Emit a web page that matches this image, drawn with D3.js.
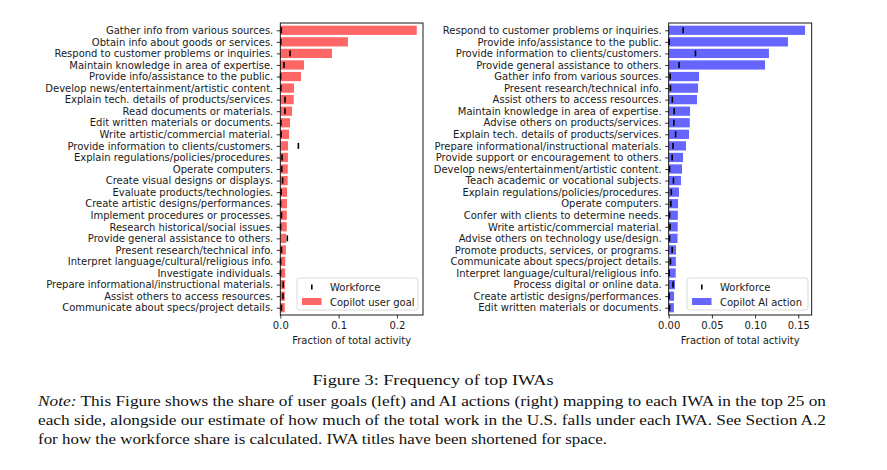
<!DOCTYPE html>
<html>
<head>
<meta charset="utf-8">
<script src="https://cdn.jsdelivr.net/npm/d3@7"></script>
<style>
  html, body { margin: 0; padding: 0; background: #fff; }
  svg { display: block; }
</style>
</head>
<body>
<svg id="chart" width="887" height="470"></svg>
<script>
const leftCategories = [
  "Gather info from various sources.",
  "Obtain info about goods or services.",
  "Respond to customer problems or inquiries.",
  "Maintain knowledge in area of expertise.",
  "Provide info/assistance to the public.",
  "Develop news/entertainment/artistic content.",
  "Explain tech. details of products/services.",
  "Read documents or materials.",
  "Edit written materials or documents.",
  "Write artistic/commercial material.",
  "Provide information to clients/customers.",
  "Explain regulations/policies/procedures.",
  "Operate computers.",
  "Create visual designs or displays.",
  "Evaluate products/technologies.",
  "Create artistic designs/performances.",
  "Implement procedures or processes.",
  "Research historical/social issues.",
  "Provide general assistance to others.",
  "Present research/technical info.",
  "Interpret language/cultural/religious info.",
  "Investigate individuals.",
  "Prepare informational/instructional materials.",
  "Assist others to access resources.",
  "Communicate about specs/project details."
];
const leftUserGoal = [0.234, 0.116, 0.0887, 0.0407, 0.0355, 0.0235, 0.023, 0.0201, 0.0167, 0.015,
  0.0133, 0.013, 0.0128, 0.0126, 0.0116, 0.0114, 0.0112, 0.011, 0.0099, 0.0095,
  0.0085, 0.0083, 0.008, 0.0078, 0.0076];
const leftWorkforce = [0.0017, 0.0008, 0.0167, 0.0063, 0.0005, 0.001, 0.008, 0.008, 0.001, 0.0015,
  0.031, 0.003, 0.0025, 0.004, 0.0015, 0.0005, 0.002, 0.0005, 0.012, 0.002,
  0.0005, 0.0003, 0.005, 0.0045, 0.002];

const rightCategories = [
  "Respond to customer problems or inquiries.",
  "Provide info/assistance to the public.",
  "Provide information to clients/customers.",
  "Provide general assistance to others.",
  "Gather info from various sources.",
  "Present research/technical info.",
  "Assist others to access resources.",
  "Maintain knowledge in area of expertise.",
  "Advise others on products/services.",
  "Explain tech. details of products/services.",
  "Prepare informational/instructional materials.",
  "Provide support or encouragement to others.",
  "Develop news/entertainment/artistic content.",
  "Teach academic or vocational subjects.",
  "Explain regulations/policies/procedures.",
  "Operate computers.",
  "Confer with clients to determine needs.",
  "Write artistic/commercial material.",
  "Advise others on technology use/design.",
  "Promote products, services, or programs.",
  "Communicate about specs/project details.",
  "Interpret language/cultural/religious info.",
  "Process digital or online data.",
  "Create artistic designs/performances.",
  "Edit written materials or documents."
];
const rightAIAction = [0.1578, 0.138, 0.116, 0.1115, 0.0351, 0.034, 0.0328, 0.0247, 0.0244, 0.0235,
  0.02, 0.0166, 0.0154, 0.0142, 0.0119, 0.0108, 0.0106, 0.0104, 0.0102, 0.0085,
  0.0083, 0.0081, 0.0073, 0.0062, 0.006];
const rightWorkforce = [0.0167, 0.0005, 0.031, 0.012, 0.0017, 0.002, 0.0042, 0.0063, 0.006, 0.008,
  0.005, 0.004, 0.001, 0.0055, 0.003, 0.0025, 0.001, 0.0015, 0.001, 0.004,
  0.002, 0.0005, 0.005, 0.0005, 0.001];

const leftTicks = [0, 0.1, 0.2];
const rightTicks = [0, 0.05, 0.10, 0.15];

const svg = d3.select("#chart");
svg.append("rect").attr("width", 887).attr("height", 470).attr("fill", "#fff");

const FONT = "'DejaVu Sans', sans-serif";
const FS = 10;

function panel(opts) {
  const { cats, vals, work, xmax, ticks, fmt, color, legendLabel, left, right, legendX } = opts;
  const top = 23, bottom = 315;
  const x = d3.scaleLinear().domain([0, xmax]).range([left, right]);
  const y = d3.scaleLinear().domain([-0.63, cats.length - 1 + 0.63]).range([top, bottom]);
  const bh = y(0.8) - y(0);
  const g = svg.append("g");

  g.selectAll("rect.bar").data(vals).enter().append("rect")
    .attr("class", "bar")
    .attr("x", x(0))
    .attr("y", (d, i) => y(i) - bh / 2)
    .attr("width", d => x(d) - x(0))
    .attr("height", bh)
    .attr("fill", color);

  g.selectAll("rect.wf").data(work).enter().append("rect")
    .attr("class", "wf")
    .attr("x", d => x(d) - 0.8)
    .attr("y", (d, i) => y(i) - 3)
    .attr("width", 1.6)
    .attr("height", 6)
    .attr("fill", "#000");

  const xAxis = d3.axisBottom(x).tickValues(ticks).tickFormat(fmt).tickSize(3.5).tickPadding(3);
  const ax = g.append("g").attr("transform", `translate(0,${bottom})`).call(xAxis);
  ax.attr("font-family", null).attr("font-size", null);
  ax.select(".domain").remove();
  ax.selectAll("text").style("font-family", FONT).style("font-size", FS + "px").attr("fill", "#1a1a1a");
  ax.selectAll("line").attr("stroke", "#000").attr("stroke-width", 0.8);

  const yAxis = d3.axisLeft(y).tickValues(d3.range(cats.length)).tickFormat(i => cats[i]).tickSize(3.5).tickPadding(3.5);
  const ay = g.append("g").attr("transform", `translate(${left},0)`).call(yAxis);
  ay.attr("font-family", null).attr("font-size", null);
  ay.select(".domain").remove();
  ay.selectAll("text").style("font-family", FONT).style("font-size", FS + "px").attr("fill", "#1a1a1a");
  ay.selectAll("line").attr("stroke", "#000").attr("stroke-width", 0.8);

  g.append("rect").attr("x", left).attr("y", top).attr("width", right - left).attr("height", bottom - top)
    .attr("fill", "none").attr("stroke", "#000").attr("stroke-width", 0.9);

  g.append("text").attr("x", (left + right) / 2).attr("y", 344)
    .attr("text-anchor", "middle").style("font-family", FONT).style("font-size", FS + "px")
    .attr("fill", "#1a1a1a").text("Fraction of total activity");

  const lg = g.append("g").attr("transform", `translate(${legendX},278)`);
  lg.append("rect").attr("width", 121).attr("height", 32).attr("rx", 2.5)
    .attr("fill", "#fff").attr("fill-opacity", 0.8).attr("stroke", "#d0d0d0").attr("stroke-width", 0.8);
  lg.append("rect").attr("x", 14).attr("y", 6.5).attr("width", 1.6).attr("height", 5).attr("fill", "#000");
  lg.append("text").attr("x", 33).attr("y", 13).style("font-family", FONT).style("font-size", FS + "px")
    .attr("fill", "#1a1a1a").text("Workforce");
  lg.append("rect").attr("x", 5).attr("y", 20).attr("width", 19.5).attr("height", 7).attr("fill", color);
  lg.append("text").attr("x", 33).attr("y", 27.5).style("font-family", FONT).style("font-size", FS + "px")
    .attr("fill", "#1a1a1a").text(legendLabel);
}

panel({
  cats: leftCategories, vals: leftUserGoal, work: leftWorkforce,
  xmax: 0.2447, ticks: leftTicks, fmt: d3.format(".1f"), color: "#ff6666",
  legendLabel: "Copilot user goal", left: 280.3, right: 423, legendX: 297
});
panel({
  cats: rightCategories, vals: rightAIAction, work: rightWorkforce,
  xmax: 0.1655, ticks: rightTicks, fmt: d3.format(".2f"), color: "#6666ff",
  legendLabel: "Copilot AI action", left: 668.7, right: 811.7, legendX: 687
});

// caption
const SERIF = "'Liberation Serif', serif";
svg.append("text").attr("x", 433).attr("y", 385).attr("text-anchor", "middle")
  .style("font-family", SERIF).style("font-size", "15.5px").attr("fill", "#111")
  .attr("textLength", 241).attr("lengthAdjust", "spacingAndGlyphs")
  .text("Figure 3: Frequency of top IWAs");

const noteLines = [
  ["Note:", " This Figure shows the share of user goals (left) and AI actions (right) mapping to each IWA in the top 25 on"],
  ["", "each side, alongside our estimate of how much of the total work in the U.S. falls under each IWA. See Section A.2"],
  ["", "for how the workforce share is calculated. IWA titles have been shortened for space."]
];
const noteWidths = [788, 788, 569];
noteLines.forEach((ln, i) => {
  const t = svg.append("text").attr("x", 38).attr("y", 406 + i * 19)
    .style("font-family", SERIF).style("font-size", "15px").attr("fill", "#111")
    .attr("textLength", noteWidths[i]).attr("lengthAdjust", "spacingAndGlyphs");
  if (ln[0]) t.append("tspan").attr("font-style", "italic").text(ln[0]);
  t.append("tspan").text(ln[1]);
});
</script>
</body>
</html>
